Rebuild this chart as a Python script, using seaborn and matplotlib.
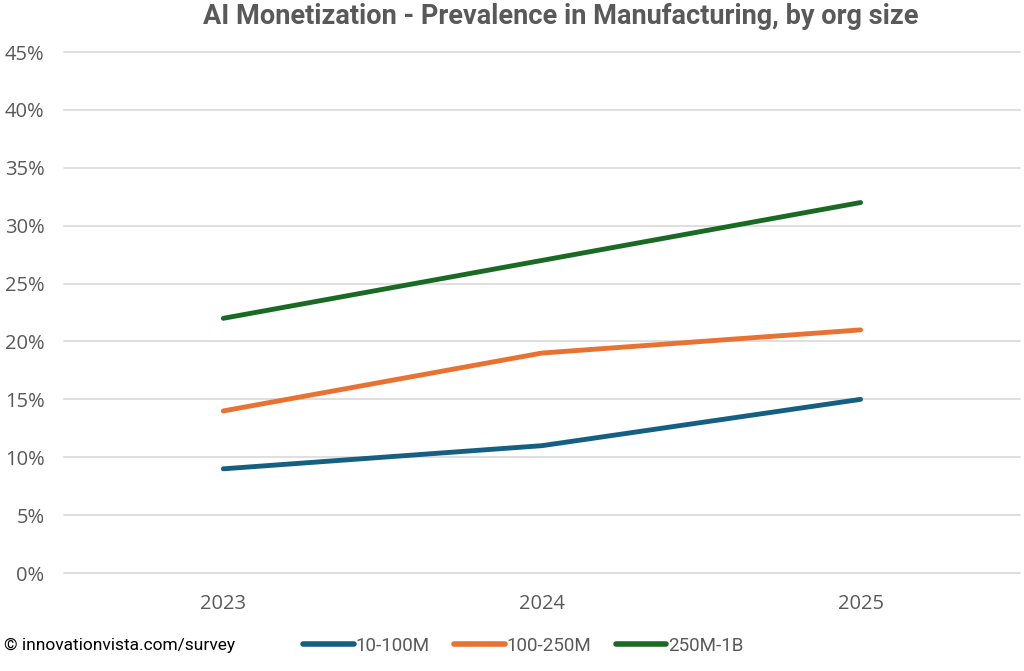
import numpy as np
import pandas as pd
import matplotlib
matplotlib.use("Agg")
import matplotlib.pyplot as plt
import seaborn as sns
from matplotlib.ticker import PercentFormatter

years = ["2023", "2024", "2025"]
small = [0.09, 0.11, 0.15]      # 10-100M
mid = [0.14, 0.19, 0.21]        # 100-250M
large = [0.22, 0.27, 0.32]      # 250M-1B
series_names = ["10-100M", "100-250M", "250M-1B"]
colors = ["#156082", "#E97132", "#196B24"]

df = pd.DataFrame({
    "year": years * 3,
    "value": small + mid + large,
    "size": np.repeat(series_names, len(years)),
})

sns.set_theme(style="white")
plt.rcParams['font.family'] = ['Open Sans', 'DejaVu Sans']

fig = plt.figure(figsize=(10.24, 6.71), dpi=100)
ax = fig.add_axes([0.0625, 0.146, 0.9335, 0.7765])

sns.lineplot(data=df, x="year", y="value", hue="size", palette=colors,
             linewidth=3.5, ax=ax, legend=False, sort=False)

ax.set_ylim(0, 0.45)
ax.set_xlim(-0.5, 2.5)
ax.set_yticks(np.arange(0, 0.46, 0.05))
ax.yaxis.set_major_formatter(PercentFormatter(1.0, decimals=0))
ax.grid(axis="y", color="#d9d9d9", linewidth=1.2)
for gl in ax.get_ygridlines():
    gl.set_clip_on(False)
ax.set_axisbelow(True)
for s in ax.spines.values():
    s.set_visible(False)
ax.tick_params(axis="both", length=0, labelsize=14.5, colors="#595959")
ax.tick_params(axis="y", pad=14)
ax.tick_params(axis="x", pad=15)
ax.set_xlabel("")
ax.set_ylabel("")

fig.text(0.548, 0.975, "AI Monetization - Prevalence in Manufacturing, by org size",
         ha="center", va="center", fontsize=19.5, fontweight="bold",
         color="#595959", family="Roboto")

fig.text(0.004, 0.038, "\u00a9 innovationvista.com/survey", ha="left", va="center",
         fontsize=12.5, color="black", family="Roboto")

handles = [plt.Line2D([0], [0], color=c, linewidth=4, solid_capstyle="round")
           for c in colors]
fig.legend(handles, series_names, loc="center", bbox_to_anchor=(0.511, 0.038),
           ncol=3, frameon=False, handlelength=2.7,
           handletextpad=0.1, columnspacing=1.3,
           prop={"family": "Roboto", "size": 13.5})
for t in fig.legends[0].get_texts():
    t.set_color("#595959")

fig.savefig("out.png", dpi=100)
